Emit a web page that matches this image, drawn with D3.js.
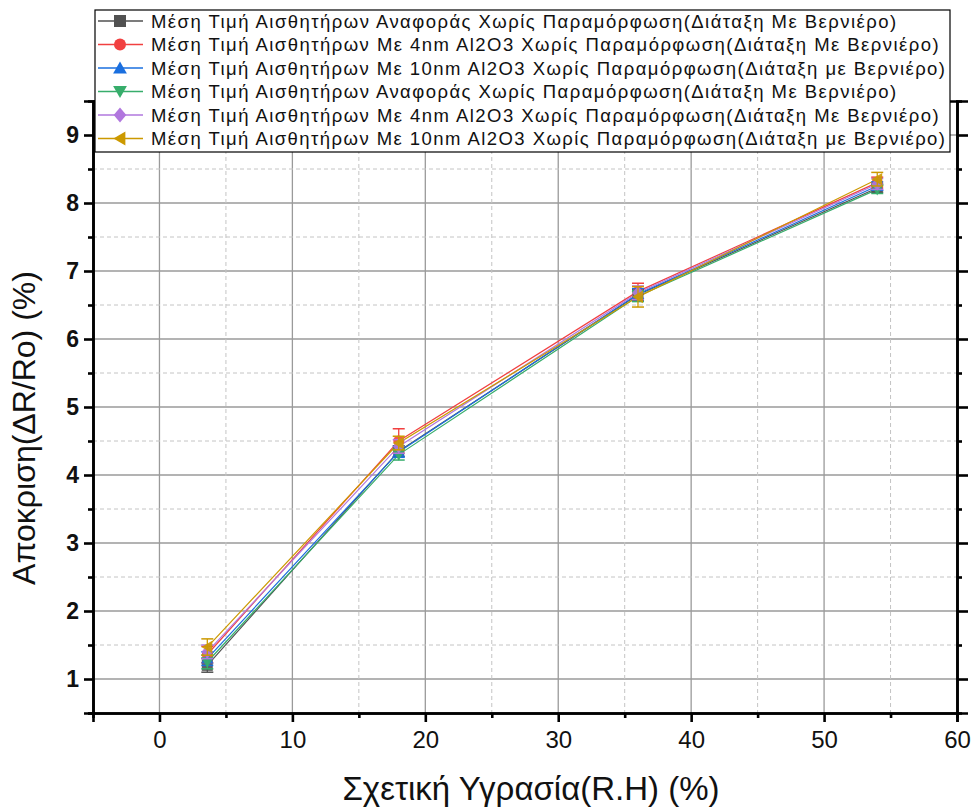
<!DOCTYPE html>
<html>
<head>
<meta charset="utf-8">
<script src="https://cdn.jsdelivr.net/npm/d3@7"></script>
<style>
  body { margin: 0; background: #fff; }
  svg { display: block; font-family: "Liberation Sans", Arial, sans-serif; }
</style>
</head>
<body>
<svg width="973" height="808"></svg>
<script>
// humidity points (x) shared by all series
const humidity = [3.6, 18, 36, 54];

const seriesNames = [
    "Μέση Τιμή Αισθητήρων Αναφοράς Χωρίς Παραμόρφωση(Διάταξη Με Βερνιέρο)",
    "Μέση Τιμή Αισθητήρων Με 4nm Al2O3 Χωρίς Παραμόρφωση(Διάταξη Με Βερνιέρο)",
    "Μέση Τιμή Αισθητήρων Με 10nm Al2O3 Χωρίς Παραμόρφωση(Διάταξη με Βερνιέρο)",
    "Μέση Τιμή Αισθητήρων Αναφοράς Χωρίς Παραμόρφωση(Διάταξη Με Βερνιέρο)",
    "Μέση Τιμή Αισθητήρων Με 4nm Al2O3 Χωρίς Παραμόρφωση(Διάταξη Με Βερνιέρο)",
    "Μέση Τιμή Αισθητήρων Με 10nm Al2O3 Χωρίς Παραμόρφωση(Διάταξη με Βερνιέρο)"
];

// mean response values, one array per series
const refA   = [1.20, 4.35, 6.65, 8.22];
const nm4A   = [1.36, 4.50, 6.70, 8.30];
const nm10A  = [1.30, 4.34, 6.66, 8.25];
const refB   = [1.25, 4.30, 6.63, 8.20];
const nm4B   = [1.40, 4.42, 6.68, 8.28];
const nm10B  = [1.47, 4.47, 6.62, 8.35];

// error bar half-widths
const errRefA  = [0.10, 0.08, 0.08, 0.06];
const errNm4A  = [0.12, 0.18, 0.12, 0.08];
const errNm10A = [0.10, 0.08, 0.08, 0.06];
const errRefB  = [0.10, 0.08, 0.08, 0.06];
const errNm4B  = [0.10, 0.10, 0.10, 0.08];
const errNm10B = [0.12, 0.10, 0.15, 0.10];

const xTicks = [0, 10, 20, 30, 40, 50, 60];
const yTicks = [1, 2, 3, 4, 5, 6, 7, 8, 9];

const colors = ["#515151", "#F14040", "#1A6FDF", "#37AD6B", "#B177DE", "#CC9900"];
const symbols = ["square", "circle", "up", "down", "diamond", "left"];

const values = [refA, nm4A, nm10A, refB, nm4B, nm10B];
const errors = [errRefA, errNm4A, errNm10A, errRefB, errNm4B, errNm10B];

const series = seriesNames.map(function(name, i) {
    return {
        name: name,
        color: colors[i],
        symbol: symbols[i],
        points: humidity.map(function(h, j) { return {x: h, y: values[i][j], e: errors[i][j]}; })
    };
});

const svg = d3.select("svg");
const plotLeft = 93, plotRight = 957, plotTop = 101, plotBottom = 713;

const x = d3.scaleLinear().domain([-5, 60]).range([plotLeft, plotRight]);
const y = d3.scaleLinear().domain([0.5, 9.5]).range([plotBottom, plotTop]);

const xMinor = d3.range(5, 60, 10);
const yMinor = d3.range(1.5, 9.5, 1);

// grid
const grid = svg.append("g");
grid.selectAll(".gx").data(xTicks.filter(d => d > -5 && d < 60)).enter().append("line")
    .attr("x1", d => x(d)).attr("x2", d => x(d)).attr("y1", plotTop).attr("y2", plotBottom)
    .attr("stroke", "#9a9a9a").attr("stroke-width", 1.3);
grid.selectAll(".gy").data(yTicks).enter().append("line")
    .attr("x1", plotLeft).attr("x2", plotRight).attr("y1", d => y(d)).attr("y2", d => y(d))
    .attr("stroke", "#9a9a9a").attr("stroke-width", 1.3);
grid.selectAll(".gxm").data(xMinor).enter().append("line")
    .attr("x1", d => x(d)).attr("x2", d => x(d)).attr("y1", plotTop).attr("y2", plotBottom)
    .attr("stroke", "#c4c4c4").attr("stroke-width", 1).attr("stroke-dasharray", "4,3");
grid.selectAll(".gym").data(yMinor).enter().append("line")
    .attr("x1", plotLeft).attr("x2", plotRight).attr("y1", d => y(d)).attr("y2", d => y(d))
    .attr("stroke", "#c4c4c4").attr("stroke-width", 1).attr("stroke-dasharray", "4,3");

// axes
const xAxis = svg.append("g").attr("transform", "translate(0," + plotBottom + ")")
    .call(d3.axisBottom(x).tickValues(xTicks).tickSize(9).tickPadding(9).tickFormat(d3.format("d")));
svg.append("g").attr("transform", "translate(0," + plotBottom + ")")
    .call(d3.axisBottom(x).tickValues(xMinor).tickSize(5).tickFormat(""));
const yAxis = svg.append("g").attr("transform", "translate(" + plotLeft + ",0)")
    .call(d3.axisLeft(y).tickValues(yTicks).tickSize(9).tickPadding(5).tickFormat(d3.format("d")));
svg.append("g").attr("transform", "translate(" + plotLeft + ",0)")
    .call(d3.axisLeft(y).tickValues(yMinor.concat([0.5])).tickSize(5).tickFormat(""));
svg.append("g").attr("transform", "translate(" + plotRight + ",0)")
    .call(d3.axisLeft(y).tickValues(yTicks).tickSize(-11).tickFormat(""));
svg.append("g").attr("transform", "translate(" + plotRight + ",0)")
    .call(d3.axisLeft(y).tickValues(yMinor).tickSize(-5).tickFormat(""));
svg.append("g").attr("transform", "translate(0," + plotTop + ")")
    .call(d3.axisTop(x).tickValues(xTicks).tickSize(0).tickFormat(""));

svg.selectAll(".domain").attr("stroke", "#000").attr("stroke-width", 2.6);
svg.selectAll(".tick line").attr("stroke", "#000").attr("stroke-width", 2.6);
xAxis.selectAll(".tick text").attr("font-size", 24).attr("fill", "#111");
yAxis.selectAll(".tick text").attr("font-size", 23).attr("font-weight", "bold").attr("fill", "#111");

// series lines
const line = d3.line().x(d => x(d.x)).y(d => y(d.y));
svg.append("g").selectAll("path").data(series).enter().append("path")
    .attr("d", d => line(d.points))
    .attr("fill", "none").attr("stroke", d => d.color).attr("stroke-width", 1.2);

// marker shapes
function markerPath(sym, s) {
    const h = s / 2;
    if (sym === "square") return "M" + (-h) + "," + (-h) + "h" + s + "v" + s + "h" + (-s) + "Z";
    if (sym === "circle") return d3.symbol(d3.symbolCircle, Math.PI * h * h)();
    if (sym === "up") return "M0," + (-h * 1.1) + "L" + (h * 1.15) + "," + (h * 0.9) + "L" + (-h * 1.15) + "," + (h * 0.9) + "Z";
    if (sym === "down") return "M0," + (h * 1.1) + "L" + (h * 1.15) + "," + (-h * 0.9) + "L" + (-h * 1.15) + "," + (-h * 0.9) + "Z";
    if (sym === "diamond") return "M0," + (-h * 1.25) + "L" + (h * 1.05) + ",0L0," + (h * 1.25) + "L" + (-h * 1.05) + ",0Z";
    if (sym === "left") return "M" + (-h * 1.1) + ",0L" + (h * 0.9) + "," + (-h * 1.15) + "L" + (h * 0.9) + "," + (h * 1.15) + "Z";
}

// error bars and markers
series.forEach(function(s) {
    const g = svg.append("g");
    const pts = g.selectAll("g").data(s.points).enter().append("g")
        .attr("transform", d => "translate(" + x(d.x) + ",0)");
    pts.append("line").attr("x1", 0).attr("x2", 0)
        .attr("y1", d => y(d.y + d.e)).attr("y2", d => y(d.y - d.e))
        .attr("stroke", s.color).attr("stroke-width", 1.3);
    pts.append("line").attr("x1", -6).attr("x2", 6)
        .attr("y1", d => y(d.y + d.e)).attr("y2", d => y(d.y + d.e))
        .attr("stroke", s.color).attr("stroke-width", 1.5);
    pts.append("line").attr("x1", -6).attr("x2", 6)
        .attr("y1", d => y(d.y - d.e)).attr("y2", d => y(d.y - d.e))
        .attr("stroke", s.color).attr("stroke-width", 1.5);
    pts.append("path")
        .attr("transform", d => "translate(0," + y(d.y) + ")")
        .attr("d", markerPath(s.symbol, 11))
        .attr("fill", s.color).attr("opacity", 0.9);
});

// legend
const legend = svg.append("g");
legend.append("rect").attr("x", 95).attr("y", 10).attr("width", 855).attr("height", 142)
    .attr("fill", "#fff").attr("stroke", "#000").attr("stroke-width", 1.2);
const rows = legend.selectAll(".row").data(series).enter().append("g")
    .attr("transform", (d, i) => "translate(0," + (21 + i * 23.5) + ")");
rows.append("line").attr("x1", 98).attr("x2", 143).attr("y1", 0).attr("y2", 0)
    .attr("stroke", d => d.color).attr("stroke-width", 1.3);
rows.append("path").attr("transform", "translate(120,0)")
    .attr("d", d => markerPath(d.symbol, 12)).attr("fill", d => d.color);
const texts = rows.append("text").attr("x", 151).attr("y", 0).attr("dy", "0.36em")
    .attr("font-size", 18.5).attr("fill", "#111")
    .text(d => d.name);
// stretch legend text to the spacing used in the picture
const widest = d3.max(texts.nodes(), n => n.getComputedTextLength());
const k = 794 / widest;
texts.each(function() {
    const w = this.getComputedTextLength();
    d3.select(this).attr("textLength", w * k).attr("lengthAdjust", "spacing");
});

// axis titles
svg.append("text").attr("x", 531).attr("y", 800).attr("text-anchor", "middle")
    .attr("font-size", 33).attr("fill", "#111").text("Σχετική Υγρασία(R.H) (%)");
svg.append("text").attr("transform", "translate(35,428) rotate(-90)").attr("text-anchor", "middle")
    .attr("font-size", 32).attr("fill", "#111").text("Αποκριση(ΔR/Ro) (%)");
</script>
</body>
</html>
